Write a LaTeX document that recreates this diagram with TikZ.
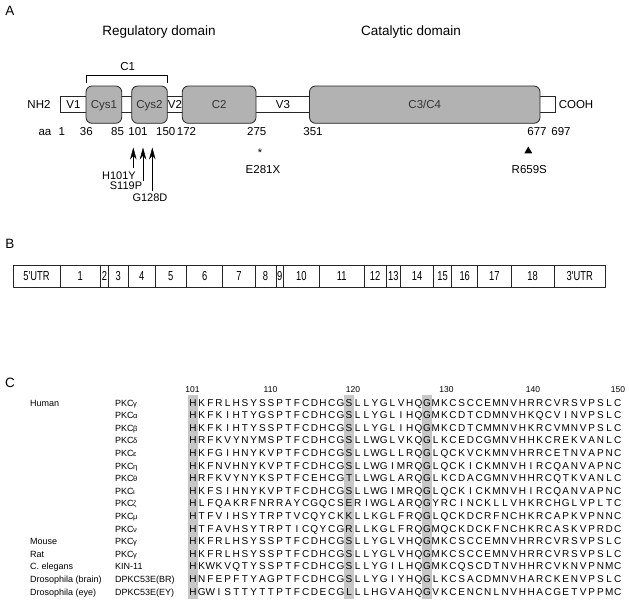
\documentclass[tikz,border=0pt]{standalone}
\usepackage{fontspec}
\setmainfont{Liberation Sans}
\newfontfamily\narrowfont[FakeStretch=0.72]{Liberation Sans}
\usetikzlibrary{arrows.meta,shapes.geometric}
\newcount\seqidx
\newcommand\seqrow[3]{\def\seqrowid{#1}\def\seqrowy{#2}\seqidx=0 \seqstep#3\relax}
\def\seqstep#1{\ifx#1\relax\else\node[res] (q\seqrowid-\the\seqidx) at ({193+\the\seqidx*8.67},\seqrowy) {#1};\advance\seqidx by 1 \expandafter\seqstep\fi}
\newcommand\pkcname[1]{PKC\kern-0.6pt{\fontsize{7.5}{8}\selectfont #1}}
\begin{document}
\begin{tikzpicture}[x=1pt,y=-1pt,line join=round,
  big/.style={inner sep=0,anchor=base,font=\fontsize{13.5}{14}\selectfont},
  txt/.style={inner sep=0,anchor=base,font=\fontsize{11.5}{12}\selectfont},
  mtxt/.style={inner sep=0,anchor=base,font=\fontsize{11}{11}\selectfont},
  dom/.style={draw=black!85,line width=0.8pt,fill=black!30,rounded corners=6pt,inner sep=0,
    minimum height=37.3,text height=8.2pt,text depth=0pt,font=\fontsize{11.5}{12}\selectfont,text=black!80},
  exon/.style={draw=black!85,line width=0.8pt,inner sep=0,minimum height=22,text height=9.3pt,text depth=0pt,
    font=\narrowfont\fontsize{13}{13}\selectfont},
  res/.style={inner sep=0,anchor=base,font=\fontsize{10}{10}\selectfont},
  sp/.style={inner sep=0,anchor=base west,font=\fontsize{9}{10}\selectfont},
  num/.style={inner sep=0,anchor=base,font=\fontsize{8.5}{9}\selectfont},
  mut/.style={-{Stealth[length=12pt,width=6.5pt]},line width=0.5pt},
  shadecol/.style={fill=black!22,draw=none}]
\useasboundingbox (0,0) rectangle (629,613);
\fill[white] (0,0) rectangle (629,613);
% ---------------- Panel A
\node[big] (pA) at (10,15.7) {A};
\node[big] (reg) at (159,35) {Regulatory domain};
\node[big] (cat) at (411,35) {Catalytic domain};
\node[draw=black!85,line width=0.8pt,fill=white,minimum width=495,minimum height=16,inner sep=0] (bar) at (307.5,104.5) {};
\node[dom,minimum width=35.7] (cys1) at (103.85,104.65) {Cys1};
\node[dom,minimum width=35.6] (cys2) at (149.5,104.65) {Cys2};
\node[dom,minimum width=73.7] (c2) at (219.15,104.65) {C2};
\node[dom,minimum width=230.5] (c34) at (424.75,104.65) {C3/C4};
\node[txt] (nh2) at (39,108.6) {NH2};
\node[txt] (v1) at (73.5,108.6) {V1};
\node[txt] (v2) at (175,108.6) {V2};
\node[txt] (v3) at (283,108.6) {V3};
\node[txt] (cooh) at (576,108.6) {COOH};
\coordinate (c1a) at (86.7,82.7);
\coordinate (c1b) at (167.3,82.7);
\draw[line width=0.7pt] (c1a) -- ++(0,-7.7) -| (c1b);
\node[txt] (c1) at (127.7,70.1) {C1};
\node[txt] (aa) at (45,135.8) {aa};
\node[txt] (a1) at (61.7,135.8) {1};
\node[txt] (a36) at (86.3,135.8) {36};
\node[txt] (a85) at (117.5,135.8) {85};
\node[txt] (a101) at (138,135.8) {101};
\node[txt] (a150) at (165.8,135.8) {150};
\node[txt] (a172) at (186.5,135.8) {172};
\node[txt] (a275) at (256.7,135.8) {275};
\node[txt] (a351) at (313,135.8) {351};
\node[txt] (a677) at (537,135.8) {677};
\node[txt] (a697) at (561,135.8) {697};
\coordinate (m1t) at (133.3,168); \coordinate (m1h) at (133.3,147.5);
\coordinate (m2t) at (143,180.5); \coordinate (m2h) at (143,147.5);
\coordinate (m3t) at (152.3,190.5); \coordinate (m3h) at (152.3,147.5);
\draw[mut] (m1t) -- (m1h);
\draw[mut] (m2t) -- (m2h);
\draw[mut] (m3t) -- (m3h);
\node[mtxt] (h101y) at (119,179) {H101Y};
\node[mtxt] (s119p) at (126,189.8) {S119P};
\node[mtxt] (g128d) at (150,201.3) {G128D};
\node[inner sep=0,anchor=north,font=\fontsize{11}{11}\selectfont] (star) at (260,148.5) {*};
\node[txt] (e281x) at (263,173) {E281X};
\node[fill=black,regular polygon,regular polygon sides=3,inner sep=0,minimum size=9] (tri) at (528.3,151) {};
\node[txt] (r659s) at (529.3,173) {R659S};
% ---------------- Panel B
\node[big] (pB) at (10,248) {B};
\node[exon,minimum width=47]   (e0)  at (36.5,276)  {5'UTR};
\node[exon,minimum width=40.7] (e1)  at (80.35,276) {1};
\node[exon,minimum width=7.6]  (e2)  at (104.5,276) {2};
\node[exon,minimum width=20]   (e3)  at (118.3,276) {3};
\node[exon,minimum width=26.7] (e4)  at (141.65,276) {4};
\node[exon,minimum width=31.7] (e5)  at (170.85,276) {5};
\node[exon,minimum width=36]   (e6)  at (204.7,276) {6};
\node[exon,minimum width=32.3] (e7)  at (238.85,276) {7};
\node[exon,minimum width=21]   (e8)  at (265.5,276) {8};
\node[exon,minimum width=7.3]  (e9)  at (279.65,276) {9};
\node[exon,minimum width=36]   (e10) at (301.3,276) {10};
\node[exon,minimum width=44.7] (e11) at (341.65,276) {11};
\node[exon,minimum width=22]   (e12) at (375,276) {12};
\node[exon,minimum width=14.7] (e13) at (393.35,276) {13};
\node[exon,minimum width=32.6] (e14) at (417,276) {14};
\node[exon,minimum width=18.4] (e15) at (442.5,276) {15};
\node[exon,minimum width=26]   (e16) at (464.7,276) {16};
\node[exon,minimum width=33.3] (e17) at (494.35,276) {17};
\node[exon,minimum width=43.3] (e18) at (532.65,276) {18};
\node[exon,minimum width=50.7] (e19) at (579.65,276) {3'UTR};
% ---------------- Panel C
\node[big] (pC) at (10,387) {C};
\fill[shadecol] (187.7,395) rectangle (198.3,599);
\fill[shadecol] (343.8,395) rectangle (354.4,599);
\fill[shadecol] (421.8,395) rectangle (432.4,599);
\node[num] (n101) at (192.5,392) {101};
\node[num] (n110) at (270.5,392) {110};
\node[num] (n120) at (353,392) {120};
\node[num] (n130) at (446.5,392) {130};
\node[num] (n140) at (533,392) {140};
\node[num] (n150) at (618,392) {150};
\node[sp] (human) at (30,406) {Human};
\node[sp] (mouse) at (30,544.6) {Mouse};
\node[sp] (rat) at (30,557.2) {Rat};
\node[sp] (celeg) at (30,569.8) {C. elegans};
\node[sp] (dbrain) at (30,582.4) {Drosophila (brain)};
\node[sp] (deye) at (30,595) {Drosophila (eye)};
\node[sp] (k0) at (115,406) {\pkcname{γ}};
\node[sp] (k1) at (115,418.6) {\pkcname{α}};
\node[sp] (k2) at (115,431.2) {\pkcname{β}};
\node[sp] (k3) at (115,443.8) {\pkcname{δ}};
\node[sp] (k4) at (115,456.4) {\pkcname{ε}};
\node[sp] (k5) at (115,469) {\pkcname{η}};
\node[sp] (k6) at (115,481.6) {\pkcname{θ}};
\node[sp] (k7) at (115,494.2) {\pkcname{ι}};
\node[sp] (k8) at (115,506.8) {\pkcname{ζ}};
\node[sp] (k9) at (115,519.4) {\pkcname{μ}};
\node[sp] (k10) at (115,532) {\pkcname{ν}};
\node[sp] (k11) at (115,544.6) {\pkcname{γ}};
\node[sp] (k12) at (115,557.2) {\pkcname{γ}};
\node[sp] (k13) at (115,569.8) {KIN-11};
\node[sp] (k14) at (115,582.4) {DPKC53E(BR)};
\node[sp] (k15) at (115,595) {DPKC53E(EY)};
\seqrow{0}{406}{HKFRLHSYSSPTFCDHCGSLLYGLVHQGMKCSCCEMNVHRRCVRSVPSLC}
\seqrow{1}{418.6}{HKFKIHTYGSPTFCDHCGSLLYGLIHQGMKCDTCDMNVHKQCVINVPSLC}
\seqrow{2}{431.2}{HKFKIHTYSSPTFCDHCGSLLYGLIHQGMKCDTCMMNVHKRCVMNVPSLC}
\seqrow{3}{443.8}{HRFKVYNYMSPTFCDHCGSLLWGLVKQGLKCEDCGMNVHHKCREKVANLC}
\seqrow{4}{456.4}{HKFGIHNYKVPTFCDHCGSLLWGLLRQGLQCKVCKMNVHRRCETNVAPNC}
\seqrow{5}{469}{HKFNVHNYKVPTFCDHCGSLLWGIMRQGLQCKICKMNVHIRCQANVAPNC}
\seqrow{6}{481.6}{HRFKVYNYKSPTFCEHCGTLLWGLARQGLKCDACGMNVHHRCQTKVANLC}
\seqrow{7}{494.2}{HKFSIHNYKVPTFCDHCGSLLWGIMRQGLQCKICKMNVHIRCQANVAPNC}
\seqrow{8}{506.8}{HLFQAKRFNRRAYCGQCSERIWGLARQGYRCINCKLLVHKRCHGLVPLTC}
\seqrow{9}{519.4}{HTFVIHSYTRPTVCQYCKKLLKGLFRQGLQCKDCRFNCHKRCAPKVPNNC}
\seqrow{10}{532}{HTFAVHSYTRPTICQYCGRLLKGLFRQGMQCKDCKFNCHKRCASKVPRDC}
\seqrow{11}{544.6}{HKFRLHSYSSPTFCDHCGSLLYGLVHQGMKCSCCEMNVHRRCVRSVPSLC}
\seqrow{12}{557.2}{HKFRLHSYSSPTFCDHCGSLLYGLVHQGMKCSCCEMNVHRRCVRSVPSLC}
\seqrow{13}{569.8}{HKWKVQTYSSPTFCDHCGSLLYGILHQGMKCQSCDTNVHHRCVKNVPNMC}
\seqrow{14}{582.4}{HNFEPFTYAGPTFCDHCGSLLYGIYHQGLKCSACDMNVHARCKENVPSLC}
\seqrow{15}{595}{HGWISTTYTTPTFCDECGLLLHGVAHQGVKCENCNLNVHHACGETVPPMC}
\end{tikzpicture}
\end{document}
